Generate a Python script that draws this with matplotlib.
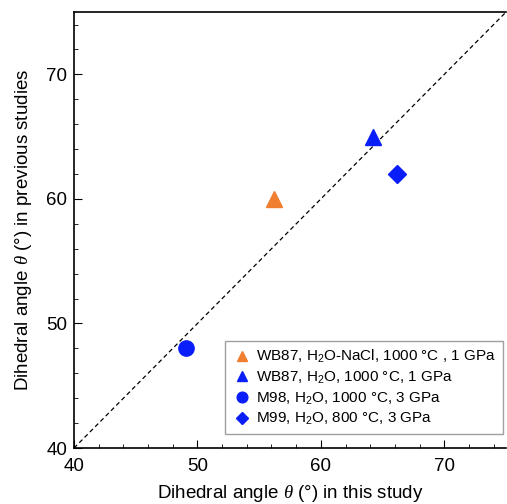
import matplotlib.pyplot as plt
import matplotlib.ticker as mticker

plt.rcParams["font.family"] = ["Liberation Sans", "DejaVu Sans"]
plt.rcParams["mathtext.fontset"] = "custom"
plt.rcParams["mathtext.rm"] = "Liberation Sans"
plt.rcParams["mathtext.it"] = "Liberation Serif:italic"

# data: (this study, previous studies)
labels = [
    "WB87, H$_2$O-NaCl, 1000 °C , 1 GPa",
    "WB87, H$_2$O, 1000 °C, 1 GPa",
    "M98, H$_2$O, 1000 °C, 3 GPa",
    "M99, H$_2$O, 800 °C, 3 GPa",
]
this_study = [56.2, 64.2, 49.1, 66.2]
previous = [60.0, 65.0, 48.0, 62.0]
markers = ["^", "^", "o", "D"]
colors = ["#F07F2F", "#0A1EFA", "#0A1EFA", "#0A1EFA"]
sizes = [11, 11, 11, 9]

fig = plt.figure(figsize=(5.07, 5.04), dpi=100)
ax = fig.add_axes([0.146, 0.111, 0.852, 0.865])

ax.plot([40, 75], [40, 75], "k--", linewidth=0.9, dashes=(3.5, 2.5))
for x, y, m, c, s, lab in zip(this_study, previous, markers, colors, sizes, labels):
    ax.plot(x, y, marker=m, color=c, markersize=s, linestyle="none", label=lab)

ax.set_xlim(40, 75)
ax.set_ylim(40, 75)
ax.set_xticks([40, 50, 60, 70])
ax.set_yticks([40, 50, 60, 70])
ax.xaxis.set_minor_locator(mticker.MultipleLocator(2))
ax.yaxis.set_minor_locator(mticker.MultipleLocator(2))
ax.tick_params(which="both", direction="in", top=False, right=False, labelsize=13.5)
ax.tick_params(which="major", length=6)
ax.tick_params(which="minor", length=3)
ax.tick_params(axis="x", pad=7)
ax.tick_params(axis="y", pad=5)
ax.spines["right"].set_visible(False)
for sp in ax.spines.values():
    sp.set_linewidth(1.2)

ax.set_xlabel(r"Dihedral angle $\theta$ (°) in this study", fontsize=13.5, labelpad=6)
ax.set_ylabel(r"Dihedral angle $\theta$ (°) in previous studies", fontsize=13.5, labelpad=9)

leg = ax.legend(loc="lower right", bbox_to_anchor=(1.0, 0.025), fontsize=11,
                frameon=True, fancybox=False, handletextpad=0.3,
                handlelength=1.3, borderpad=0.45, labelspacing=0.3, markerscale=0.7,
                borderaxespad=0.2)
leg.get_frame().set_edgecolor("#888888")
leg.get_frame().set_linewidth(1.0)

fig.savefig("out.png", dpi=100)
